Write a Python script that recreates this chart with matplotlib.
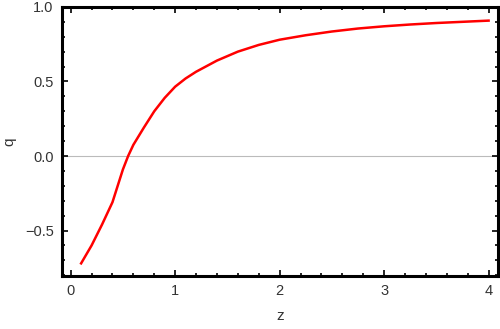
import matplotlib
matplotlib.use('Agg')
import matplotlib.pyplot as plt
from matplotlib.ticker import MultipleLocator

# valores
z = [0.1, 0.2, 0.3, 0.4, 0.5, 0.55, 0.6, 0.7, 0.8, 0.9, 1.0, 1.1, 1.2, 1.4,
     1.6, 1.8, 2.0, 2.25, 2.5, 2.75, 3.0, 3.25, 3.5, 3.75, 4.0]
q = [-0.72, -0.60, -0.46, -0.31, -0.09, 0.0, 0.075, 0.19, 0.30, 0.39, 0.465,
     0.52, 0.565, 0.64, 0.70, 0.745, 0.78, 0.81, 0.835, 0.855, 0.87, 0.882,
     0.892, 0.90, 0.908]
x_ticks = [0, 1, 2, 3, 4]
y_ticks = [-0.5, 0.0, 0.5, 1.0]

plt.rcParams['font.family'] = ['Liberation Sans', 'DejaVu Sans']

fig = plt.figure(figsize=(5, 3.29), dpi=100)
ax = fig.add_axes([0.124, 0.161, 0.872, 0.818])

ax.axhline(0, color='#bbbbbb', lw=0.8, zorder=1)
ax.plot(z, q, color='#ff0000', lw=1.8, zorder=3)

ax.set_xlim(-0.083, 4.09)
ax.set_ylim(-0.805, 1.0)
ax.set_xticks(x_ticks)
ax.set_yticks(y_ticks)
ax.set_yticklabels(['\u22120.5', '0.0', '0.5', '1.0'])
ax.xaxis.set_minor_locator(MultipleLocator(0.2))
ax.yaxis.set_minor_locator(MultipleLocator(0.1))

for s in ax.spines.values():
    s.set_linewidth(2.2)
ax.tick_params(which='both', direction='in', top=True, right=True,
               width=1.2, labelsize=10.5, labelcolor='#333333', pad=6)
ax.tick_params(which='major', length=4)
ax.tick_params(which='minor', length=2)

ax.set_xlabel('z', fontsize=11, color='#333333', labelpad=8)
ax.set_ylabel('q', fontsize=11, color='#333333', labelpad=6)

plt.savefig('out.png', dpi=100)
plt.close()
